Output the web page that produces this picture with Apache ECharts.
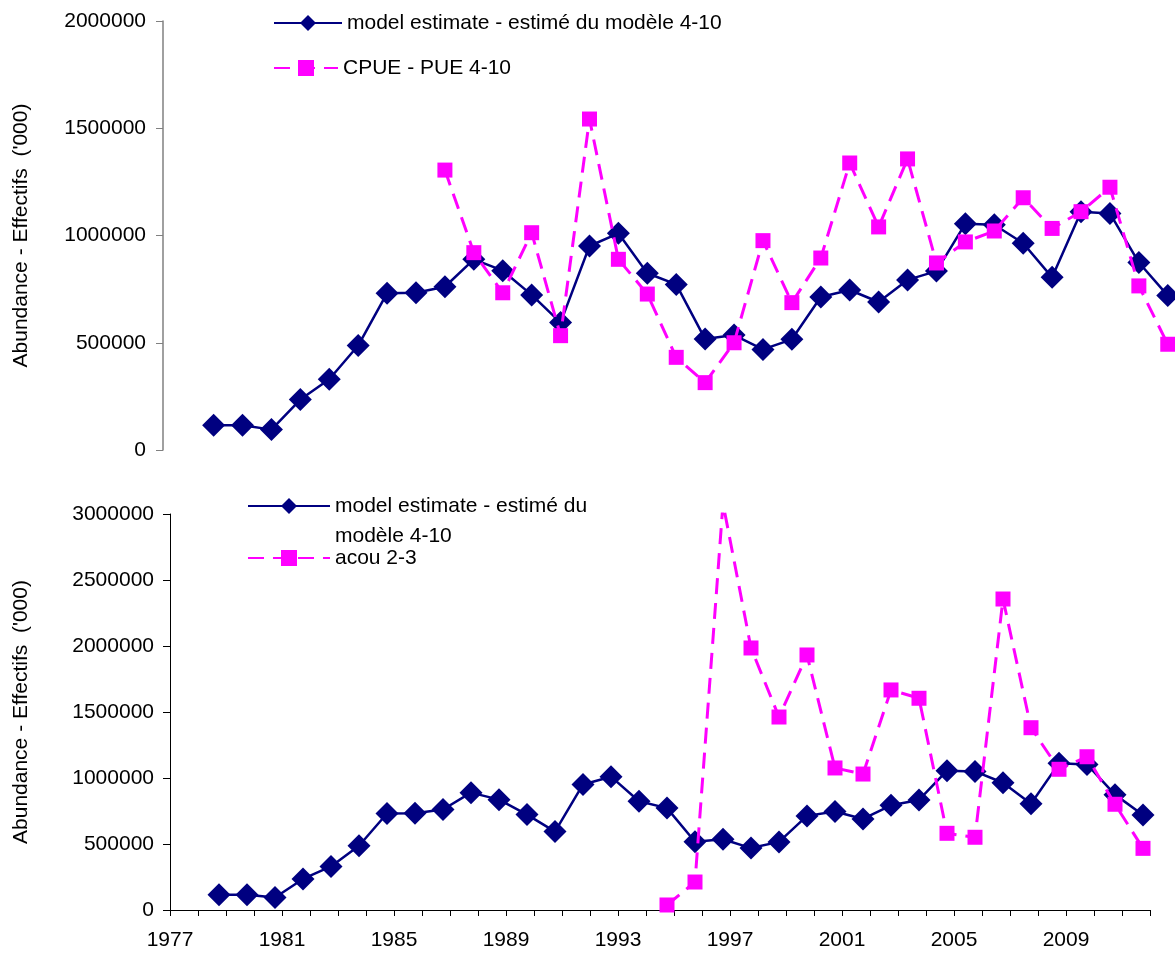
<!DOCTYPE html>
<html>
<head>
<meta charset="utf-8">
<title>Abundance</title>
<script src="https://cdn.jsdelivr.net/npm/echarts@6/dist/echarts.min.js"></script>
<style>
  html, body { margin: 0; padding: 0; background: #fff; }
  #chart { width: 1175px; height: 954px; }
</style>
</head>
<body>
<div id="chart"></div>
<script>
// years and values
var modelYears = [1979, 1980, 1981, 1982, 1983, 1984, 1985, 1986, 1987, 1988, 1989, 1990,
  1991, 1992, 1993, 1994, 1995, 1996, 1997, 1998, 1999, 2000, 2001, 2002, 2003, 2004,
  2005, 2006, 2007, 2008, 2009, 2010, 2011, 2012];
var modelValues = [115000, 115000, 95000, 235000, 330000, 487000, 731000, 733000, 761000,
  889000, 836000, 723000, 594000, 951000, 1010000, 824000, 772000, 517000, 536000, 469000,
  516000, 713000, 746000, 690000, 793000, 834000, 1055000, 1050000, 964000, 805000,
  1111000, 1103000, 874000, 720000];

var cpueYears = [1987, 1988, 1989, 1990, 1991, 1992, 1993, 1994, 1995, 1996, 1997, 1998,
  1999, 2000, 2001, 2002, 2003, 2004, 2005, 2006, 2007, 2008, 2009, 2010, 2011, 2012];
var cpueValues = [1305000, 920000, 733000, 1013000, 533000, 1543000, 889000, 727000,
  432000, 314000, 500000, 976000, 687000, 895000, 1338000, 1040000, 1357000, 872000,
  970000, 1021000, 1176000, 1033000, 1111000, 1225000, 765000, 493000];

var acouYears = [1995, 1996, 1997, 1998, 1999, 2000, 2001, 2002, 2003, 2004, 2005, 2006,
  2007, 2008, 2009, 2010, 2011, 2012];
var acouValues = [38000, 212000, 3080000, 1985000, 1462000, 1932000, 1076000, 1030000,
  1667000, 1604000, 581000, 551000, 2356000, 1381000, 1066000, 1161000, 801000, 467000];

var xTickLabels = [1977, 1981, 1985, 1989, 1993, 1997, 2001, 2005, 2009];

// points sit a quarter year before the year tick in the original
var yearOffset = -0.25;

var modelName = 'model estimate - estimé du modèle 4-10';
var cpueName = 'CPUE - PUE 4-10';
var acouName = 'acou 2-3';
var yTitle = "Abundance - Effectifs  ('000)";

function pairs(years, values) {
  return years.map(function (y, i) { return [y + yearOffset, values[i]]; });
}

var font = 'Liberation Sans, Arial, sans-serif';
var navy = '#000080';
var pink = '#ff00ff';

var myChart = echarts.init(document.getElementById('chart'));

function modelSeries(idx) {
  return {
    name: modelName,
    type: 'line',
    xAxisIndex: idx, yAxisIndex: idx,
    data: pairs(modelYears, modelValues),
    symbol: 'diamond',
    symbolSize: 23,
    itemStyle: { color: navy },
    lineStyle: { color: navy, width: 2.5 },
    z: 2
  };
}

function pinkSeries(idx, name, years, values) {
  return {
    name: name,
    type: 'line',
    xAxisIndex: idx, yAxisIndex: idx,
    data: pairs(years, values),
    symbol: 'rect',
    symbolSize: 15,
    itemStyle: { color: pink },
    lineStyle: { color: pink, width: 3, type: [16, 9] },
    z: 3
  };
}

var legendText = { color: '#000', fontSize: 21, fontFamily: font, lineHeight: 24 };
var plainNum = function (v) { return String(v); };

var option = {
  backgroundColor: '#fff',
  animation: false,
  legend: [
    {
      data: [modelName], left: 273, top: 11, padding: 0,
      itemWidth: 68, itemHeight: 20, textStyle: legendText
    },
    {
      data: [cpueName], left: 273, top: 56, padding: 0,
      itemWidth: 64, itemHeight: 20, textStyle: legendText
    },
    {
      // leading blank line keeps the first text line level with the icon
      data: [modelName], left: 247, top: 461, padding: 0,
      itemWidth: 82, itemHeight: 20,
      formatter: function () { return '\nmodel estimate - estimé du\nmodèle 4-10'; },
      textStyle: { color: '#000', fontSize: 21, fontFamily: font, lineHeight: 30 }
    },
    {
      data: [acouName], left: 247, top: 546, padding: 0,
      itemWidth: 82, itemHeight: 20, textStyle: legendText
    }
  ],
  grid: [
    { left: 163, right: 0, top: 21, bottom: 504 },
    { left: 170, right: 25, top: 514, bottom: 44 }
  ],
  xAxis: [
    { type: 'value', gridIndex: 0, min: 1977, max: 2012, show: false },
    {
      type: 'value', gridIndex: 1, min: 1977, max: 2012, interval: 1,
      axisLine: { lineStyle: { color: '#000', width: 1 } },
      axisTick: { length: 6, lineStyle: { color: '#000' } },
      splitLine: { show: false },
      axisLabel: {
        color: '#000', fontSize: 21, fontFamily: font, margin: 20,
        formatter: function (v) { return xTickLabels.indexOf(v) >= 0 ? String(v) : ''; }
      }
    }
  ],
  yAxis: [
    {
      type: 'value', gridIndex: 0, min: 0, max: 2000000, interval: 500000,
      name: yTitle, nameLocation: 'middle', nameRotate: 90, nameGap: 131,
      nameTextStyle: { color: '#000', fontSize: 21, fontFamily: font },
      axisLine: { show: true, lineStyle: { color: '#808080', width: 1.5 } },
      axisTick: { show: true, length: 7, lineStyle: { color: '#808080' } },
      splitLine: { show: false },
      axisLabel: { color: '#000', fontSize: 21, fontFamily: font, margin: 17, formatter: plainNum }
    },
    {
      type: 'value', gridIndex: 1, min: 0, max: 3000000, interval: 500000,
      name: yTitle, nameLocation: 'middle', nameRotate: 90, nameGap: 138,
      nameTextStyle: { color: '#000', fontSize: 21, fontFamily: font },
      axisLine: { show: true, lineStyle: { color: '#000', width: 1 } },
      axisTick: { show: true, length: 7, lineStyle: { color: '#000' } },
      splitLine: { show: false },
      axisLabel: { color: '#000', fontSize: 21, fontFamily: font, margin: 16, formatter: plainNum }
    }
  ],
  series: [
    modelSeries(0),
    pinkSeries(0, cpueName, cpueYears, cpueValues),
    modelSeries(1),
    pinkSeries(1, acouName, acouYears, acouValues)
  ]
};

myChart.setOption(option);
</script>
</body>
</html>
